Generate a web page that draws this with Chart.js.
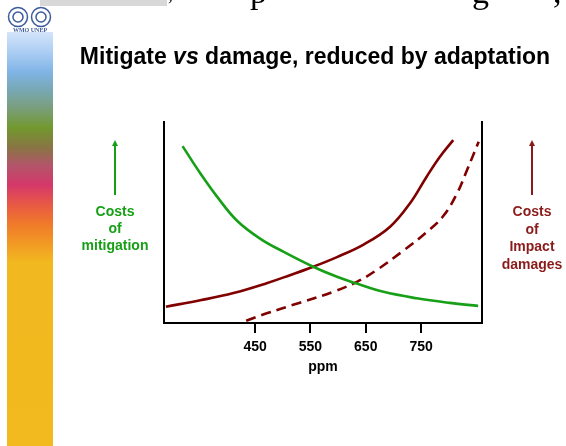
<!DOCTYPE html>
<html>
<head>
<meta charset="utf-8">
<script src="https://cdn.jsdelivr.net/npm/chart.js@4"></script>
<style>
  html, body { margin: 0; padding: 0; background: #fff; }
  canvas { display: block; }
</style>
</head>
<body>
<canvas id="mychart" width="566" height="446"></canvas>
<script>
// curves (ppm vs relative cost, arbitrary units 0-100)
const mitigationPpm = [319, 351, 381, 417, 459, 501, 555, 598, 634, 682, 742, 802, 853];
const mitigationCost = [88, 74.5, 63, 51, 42, 35.5, 28, 23, 19.6, 15.5, 12.3, 10, 8.5];
const damagePpm = [289, 351, 411, 471, 513, 555, 598, 646, 694, 730, 760, 784, 808];
const damageCost = [8.1, 11.3, 14.9, 19.8, 23.8, 28, 32.8, 39, 47.9, 59.6, 72.8, 82.7, 91];
const adaptedPpm = [434, 471, 531, 592, 634, 670, 718, 760, 790, 815, 833, 854];
const adaptedCost = [1.1, 4.8, 10.1, 15.6, 20.5, 26.4, 36, 45.2, 53.2, 64.5, 76.1, 90.2];
const ppmTicks = [450, 550, 650, 750];

const FONT = '"Liberation Sans", Arial, sans-serif';
const GREEN = '#17a017';
const DARKRED = '#800000';

const toPoints = (xs, ys) => xs.map((x, i) => ({x: x, y: ys[i]}));

const arrow = (ctx, x, y1, y2, color) => {
    ctx.strokeStyle = color;
    ctx.fillStyle = color;
    ctx.lineWidth = 2;
    ctx.beginPath();
    ctx.moveTo(x, y1);
    ctx.lineTo(x, y2 + 4);
    ctx.stroke();
    ctx.beginPath();
    ctx.moveTo(x, y2);
    ctx.lineTo(x - 3, y2 + 6);
    ctx.lineTo(x + 3, y2 + 6);
    ctx.closePath();
    ctx.fill();
};

const lines = (ctx, arr, x, y, step, color) => {
    ctx.fillStyle = color;
    ctx.font = 'bold 14px ' + FONT;
    ctx.textAlign = 'center';
    ctx.textBaseline = 'middle';
    arr.forEach((t, i) => ctx.fillText(t, x, y + i * step));
};

const slideDecor = {
    id: 'slideDecor',
    beforeDraw(chart) {
        const ctx = chart.ctx;
        ctx.save();
        ctx.fillStyle = '#fff';
        ctx.fillRect(0, 0, chart.width, chart.height);

        // left colour band
        const g = ctx.createLinearGradient(0, 32, 0, 446);
        const stops = [
            [32, '#d4e4fa'], [50, '#b0d0f4'], [72, '#80b4e6'], [90, '#78a8b4'],
            [108, '#7a9e7c'], [128, '#72982e'], [148, '#8a7444'], [165, '#b2566a'],
            [185, '#d4386a'], [205, '#e85a44'], [224, '#f07a2a'], [244, '#f29a24'],
            [262, '#f2b820'], [446, '#f2ba1e']
        ];
        stops.forEach(s => g.addColorStop((s[0] - 32) / 414, s[1]));
        ctx.fillStyle = g;
        ctx.fillRect(7, 32, 46, 414);

        // WMO / UNEP logo
        ctx.strokeStyle = '#3b5b9c';
        ctx.lineWidth = 1.5;
        [[18, 17], [41, 17]].forEach(c => {
            ctx.beginPath();
            ctx.arc(c[0], c[1], 9.5, 0, Math.PI * 2);
            ctx.stroke();
            ctx.beginPath();
            ctx.arc(c[0], c[1], 5, 0, Math.PI * 2);
            ctx.stroke();
        });
        ctx.fillStyle = '#3b5b9c';
        ctx.font = 'bold 6px "Liberation Serif", serif';
        ctx.textAlign = 'center';
        ctx.textBaseline = 'middle';
        ctx.fillText('WMO UNEP', 30, 30);

        // remains of the previous text line at the very top
        ctx.fillStyle = '#d8d8d8';
        ctx.fillRect(40, 0, 127, 6);
        ctx.fillStyle = '#000';
        ctx.font = '34px "Liberation Serif", serif';
        ctx.textAlign = 'left';
        ctx.textBaseline = 'alphabetic';
        ctx.fillText('p', 250, 3);
        ctx.fillText('g', 472, 3);
        ctx.fillText(',', 553, 3);
        ctx.font = '20px "Liberation Serif", serif';
        ctx.fillText(',', 168, 0);

        // title
        const parts = [['bold ', 'Mitigate '], ['italic bold ', 'vs'], ['bold ', ' damage, reduced by adaptation']];
        let total = 0;
        parts.forEach(p => { ctx.font = p[0] + '23px ' + FONT; total += ctx.measureText(p[1]).width; });
        let tx = 315 - total / 2;
        parts.forEach(p => {
            ctx.font = p[0] + '23px ' + FONT;
            ctx.fillText(p[1], tx, 64);
            tx += ctx.measureText(p[1]).width;
        });

        // side annotations
        arrow(ctx, 115, 195, 140, GREEN);
        lines(ctx, ['Costs', 'of', 'mitigation'], 115, 212, 17, GREEN);
        arrow(ctx, 532, 195, 140, '#8b1a1a');
        lines(ctx, ['Costs', 'of', 'Impact', 'damages'], 532, 212, 17.7, '#8b1a1a');
        ctx.restore();
    }
};

const data = {
    datasets: [
        {
            label: 'Costs of mitigation',
            data: toPoints(mitigationPpm, mitigationCost),
            borderColor: GREEN,
            borderWidth: 2.6,
        },
        {
            label: 'Costs of impact damages',
            data: toPoints(damagePpm, damageCost),
            borderColor: DARKRED,
            borderWidth: 2.6,
        },
        {
            label: 'Damages reduced by adaptation',
            data: toPoints(adaptedPpm, adaptedCost),
            borderColor: DARKRED,
            borderWidth: 2.6,
            borderDash: [10, 6],
        }
    ]
};

const config = {
    type: 'line',
    data: data,
    options: {
        responsive: false,
        animation: false,
        layout: {
            padding: {left: 164, right: 84, top: 122, bottom: 70}
        },
        elements: {
            point: {radius: 0},
            line: {tension: 0.4, fill: false}
        },
        plugins: {
            legend: {display: false},
            tooltip: {enabled: false},
        },
        scales: {
            x: {
                type: 'linear',
                min: 285.5,
                max: 860,
                afterBuildTicks: s => { s.ticks = ppmTicks.map(v => ({value: v})); },
                afterFit: s => { s.height = 53; },
                ticks: {
                    color: '#000',
                    padding: 6,
                    maxRotation: 0,
                    autoSkip: false,
                    font: {family: FONT, size: 14, weight: 'bold'},
                },
                grid: {
                    display: true,
                    drawOnChartArea: false,
                    drawTicks: true,
                    tickLength: 10,
                    color: '#000',
                    lineWidth: 2,
                },
                border: {display: true, color: '#000', width: 2},
                title: {
                    display: true,
                    text: 'ppm',
                    color: '#000',
                    padding: {top: 10, bottom: 0},
                    font: {family: FONT, size: 14, weight: 'bold'},
                },
            },
            y: {
                min: 0,
                max: 100,
                afterFit: s => { s.width = 0; },
                ticks: {display: false},
                grid: {display: false},
                border: {display: true, color: '#000', width: 2},
            },
            y2: {
                position: 'right',
                min: 0,
                max: 100,
                afterFit: s => { s.width = 0; },
                ticks: {display: false},
                grid: {display: false},
                border: {display: true, color: '#000', width: 2},
            }
        }
    },
    plugins: [slideDecor],
};

const ctx = document.getElementById('mychart').getContext('2d');
new Chart(ctx, config);
</script>
</body>
</html>
